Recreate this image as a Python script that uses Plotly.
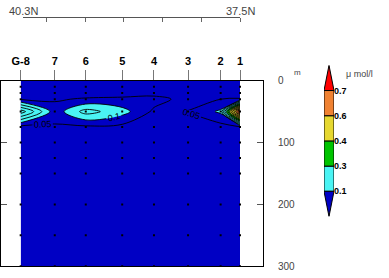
import plotly.graph_objects as go
import numpy as np

# ---------------- data ----------------
stations = ["G-8", "7", "6", "5", "4", "3", "2", "1"]
station_lat = [40.33, 39.89, 39.49, 39.02, 38.61, 38.17, 37.75, 37.50]
depths = [0, 10, 20, 30, 50, 75, 100, 125, 150, 200, 250, 300]
sample_depths = [10, 20, 30, 50, 75, 100, 125, 150, 200, 250, 300]
# concentration (umol/l), rows = depths, cols = stations
conc = [
    [0.01, 0.01, 0.01, 0.01, 0.01, 0.01, 0.01, 0.01],
    [0.01, 0.01, 0.01, 0.01, 0.01, 0.01, 0.01, 0.01],
    [0.02, 0.02, 0.03, 0.03, 0.03, 0.02, 0.02, 0.02],
    [0.045, 0.045, 0.055, 0.06, 0.07, 0.03, 0.05, 0.055],
    [0.28, 0.07, 0.17, 0.12, 0.04, 0.052, 0.11, 0.75],
    [0.03, 0.045, 0.04, 0.035, 0.03, 0.03, 0.03, 0.04],
    [0.02, 0.03, 0.02, 0.02, 0.02, 0.02, 0.02, 0.02],
    [0.01, 0.02, 0.01, 0.01, 0.01, 0.01, 0.01, 0.01],
    [0.01, 0.01, 0.01, 0.01, 0.01, 0.01, 0.01, 0.01],
    [0.01, 0.01, 0.01, 0.01, 0.01, 0.01, 0.01, 0.01],
    [0.01, 0.01, 0.01, 0.01, 0.01, 0.01, 0.01, 0.01],
    [0.01, 0.01, 0.01, 0.01, 0.01, 0.01, 0.01, 0.01],
]
level_bounds = [0.1, 0.3, 0.4, 0.6, 0.7]
level_colors = ["#0000c4", "#4af4f4", "#00c400", "#e6d830", "#f08232", "#ff0000"]
lat_ticks = [40.0, 39.5, 39.0, 38.5, 38.0, 37.5]
lat_ends = [40.3, 37.5]
depth_ticks = [0, 100, 200, 300]

# ---------------- geometry ----------------
W, H = 389, 278
def px(x): return x / W
def py(y): return 1 - y / H

start, size, end = 0.05, 0.05, 0.95
nc = int(round((end - start) / size)) + 1
vlo = start - size / 2
vhi = vlo + nc * size
def t(v): return (v - vlo) / (vhi - vlo)

# stepped colorscale in value space
cs = []
edges = [vlo] + level_bounds + [vhi]
for i, c in enumerate(level_colors):
    cs.append([t(edges[i]), c])
    cs.append([t(edges[i + 1]), c])

fig = go.Figure()
zarr = np.array(conc, dtype=float)

fig.add_trace(go.Contour(
    x=station_lat, y=depths, z=zarr, colorscale=cs, showscale=False,
    contours=dict(start=start, end=end, size=size, coloring="fill"),
    line=dict(width=0), hoverinfo="skip"))
fig.add_trace(go.Contour(
    x=station_lat, y=depths, z=zarr, showscale=False,
    contours=dict(start=0.15, end=end, size=size, coloring="none"),
    line=dict(color="black", width=0.9), hoverinfo="skip"))
fig.add_trace(go.Contour(
    x=station_lat, y=depths, z=zarr, showscale=False,
    contours=dict(start=0.05, end=0.1, size=0.05, coloring="none", showlabels=True,
                  labelfont=dict(size=9, color="black", family="Liberation Sans")),
    line=dict(color="black", width=0.9), hoverinfo="skip"))

# sample dots
dx, dy = [], []
for la in station_lat:
    for d in sample_depths:
        dx.append(la); dy.append(d)
fig.add_trace(go.Scatter(x=dx, y=dy, mode="markers",
                         marker=dict(symbol="square", size=2, color="black", line=dict(width=0)),
                         hoverinfo="skip", showlegend=False))

# invisible trace to activate the latitude axis (on its own hidden y axis)
fig.add_trace(go.Scatter(x=lat_ends, y=[None, None], xaxis="x2", yaxis="y4",
                         mode="markers", showlegend=False, hoverinfo="skip"))

# colour bar built on its own axes
nseg = len(level_colors)
for i in range(1, nseg - 1):
    fig.add_trace(go.Bar(x=[0], y=[1], base=[i], width=1, xaxis="x3", yaxis="y3",
                         marker=dict(color=level_colors[i], line=dict(color="black", width=1)),
                         showlegend=False, hoverinfo="skip"))
fig.add_trace(go.Scatter(x=[-0.5, 0.5, 0, -0.5], y=[1, 1, 0, 1], xaxis="x3", yaxis="y3",
                         mode="lines", fill="toself", fillcolor=level_colors[0],
                         line=dict(color="black", width=1), showlegend=False, hoverinfo="skip"))
fig.add_trace(go.Scatter(x=[-0.5, 0.5, 0, -0.5], y=[nseg - 1, nseg - 1, nseg, nseg - 1],
                         xaxis="x3", yaxis="y3",
                         mode="lines", fill="toself", fillcolor=level_colors[-1],
                         line=dict(color="black", width=1), showlegend=False, hoverinfo="skip"))

x_left = 40.3 + 22 / 77.5
x_right = 37.5 - 23 / 77.5

fig.update_layout(
    width=W, height=H, margin=dict(l=0, r=0, t=0, b=0),
    paper_bgcolor="white", plot_bgcolor="rgba(0,0,0,0)",
    showlegend=False, barmode="overlay",
    font=dict(family="Liberation Sans", color="#333"),
    xaxis=dict(domain=[px(1), px(263)], range=[x_left, x_right], side="top",
               tickvals=station_lat, ticktext=stations, ticks="outside", ticklen=10,
               tickcolor="#777", tickwidth=1,
               tickfont=dict(size=11, family="Liberation Sans", color="black", weight="bold"),
               showline=True, linecolor="black", linewidth=1, mirror=True,
               showgrid=False, zeroline=False, anchor="y"),
    yaxis=dict(domain=[py(272), py(78)], range=[300, 0], side="right",
               tickvals=depth_ticks, ticks="inside", ticklen=6, tickcolor="#555",
               ticklabelstandoff=12,
               tickfont=dict(size=10, color="#444"),
               showline=True, linecolor="black", linewidth=1, mirror="allticks",
               showgrid=False, zeroline=False, anchor="x"),
    xaxis2=dict(domain=[px(23), px(240)], range=[40.3, 37.5], anchor="y4",
                side="bottom", tickvals=lat_ticks, showticklabels=False,
                ticks="outside", ticklen=4, tickcolor="#666", showline=True,
                linecolor="#555", linewidth=1, showgrid=False, zeroline=False),
    yaxis4=dict(domain=[py(11), py(2)], visible=False, anchor="x2", range=[0, 1]),
    xaxis3=dict(domain=[px(324), px(334)], range=[-0.5, 0.5], visible=False,
                anchor="y3"),
    yaxis3=dict(domain=[py(220), py(62)], range=[0, nseg], side="right",
                tickvals=list(range(1, nseg)), ticktext=[str(b) for b in level_bounds],
                ticks="", ticklen=0, showline=False, showgrid=False, zeroline=False,
                ticklabelstandoff=-1,
                tickfont=dict(size=9, color="black", weight="bold"), anchor="x3"),
)

fig.add_annotation(text="40.3N", xref="x2", x=lat_ends[0], yref="paper", y=py(11),
                   yanchor="bottom", xanchor="center", showarrow=False,
                   font=dict(size=11, color="#444"), yshift=-2)
fig.add_annotation(text="37.5N", xref="x2", x=lat_ends[1], yref="paper", y=py(11),
                   yanchor="bottom", xanchor="center", showarrow=False,
                   font=dict(size=11, color="#444"), yshift=-2)
fig.add_annotation(text="m", xref="paper", x=px(292), yref="paper", y=py(70),
                   xanchor="left", yanchor="middle", showarrow=False,
                   font=dict(size=8, color="#444"))
fig.add_annotation(text="μ mol/l", xref="paper", x=px(344), yref="paper", y=py(71),
                   xanchor="left", yanchor="middle", showarrow=False,
                   font=dict(size=9, color="#444"))

fig.write_html("out.html")
